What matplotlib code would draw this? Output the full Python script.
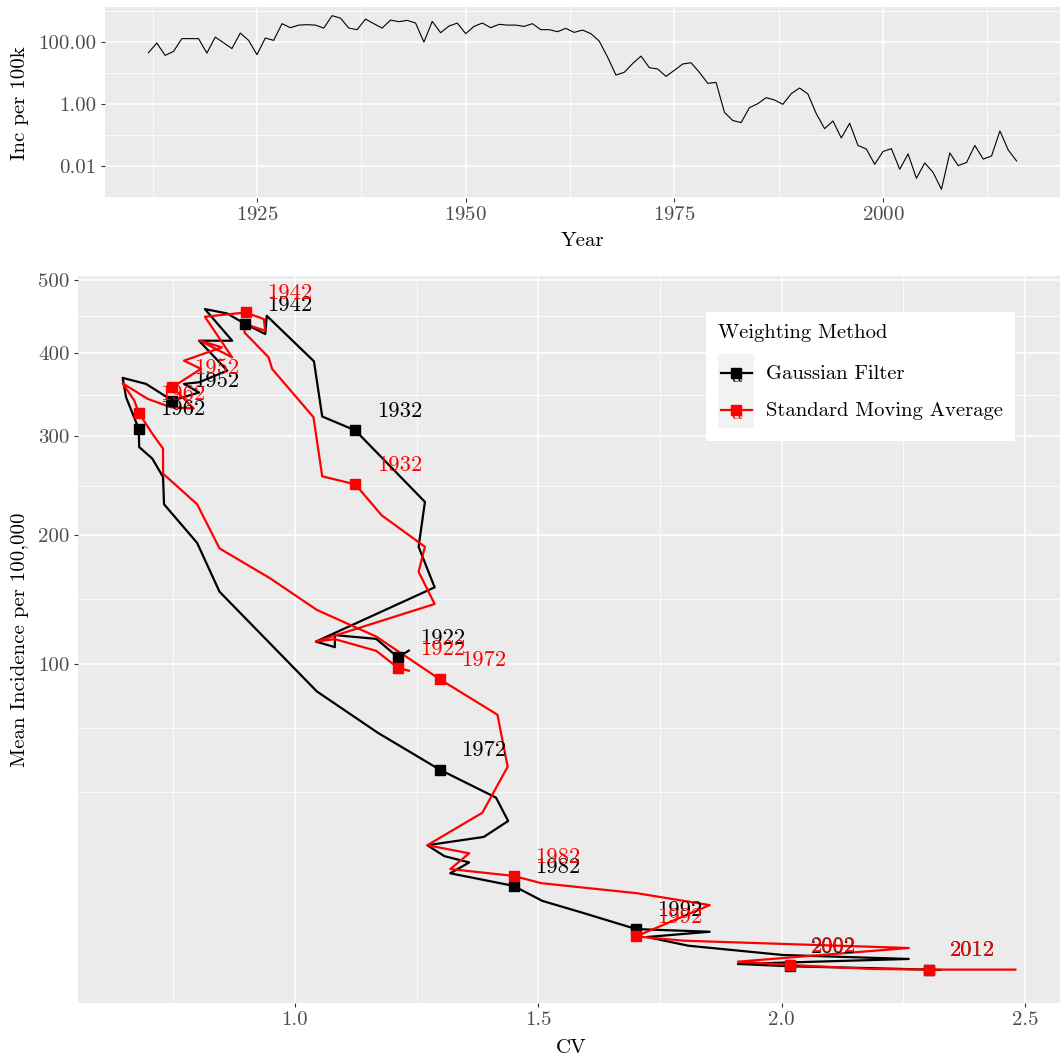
import matplotlib
matplotlib.use("Agg")
import matplotlib.pyplot as plt
import numpy as np
from matplotlib.legend_handler import HandlerBase
from matplotlib.lines import Line2D
from matplotlib.patches import Rectangle
from matplotlib.text import Text
from matplotlib.ticker import FixedLocator, FuncFormatter

plt.rcParams["font.family"] = "cmr10"
plt.rcParams["mathtext.fontset"] = "cm"
plt.rcParams["axes.formatter.use_mathtext"] = True

# yearly incidence per 100k (top panel)
years = list(range(1912, 2017))
incidence = [
    46.5, 95, 38, 51, 132, 132, 132, 45, 148, 97,
    63, 200, 116, 40, 138, 116, 401, 298, 361, 372,
    361, 289, 727, 608, 289, 257, 564, 401, 289, 524,
    465, 513, 420, 102, 476, 205, 336, 420, 191, 328,
    420, 298, 381, 361, 361, 328, 401, 257, 257, 221,
    283, 210, 249, 191, 110, 33.6, 8.8, 10.8, 20.6, 36,
    15.3, 13.8, 8.0, 12.5, 20, 22, 10.8, 4.75, 5.1, 0.55,
    0.30, 0.257, 0.78, 1.05, 1.64, 1.38, 1.0, 2.2, 3.36, 2.15,
    0.50, 0.164, 0.29, 0.082, 0.244, 0.047, 0.036, 0.0116, 0.030, 0.037,
    0.008, 0.025, 0.0041, 0.0128, 0.0063, 0.0018, 0.027, 0.0105, 0.0132, 0.047,
    0.017, 0.0215, 0.138, 0.0336, 0.0148,
]

# phase path: Gaussian filter
gauss_cv = [
    1.234, 1.212, 1.167, 1.082, 1.082, 1.043, 1.287, 1.254, 1.267, 1.124,
    1.056, 1.039, 0.942, 0.939, 0.898, 0.861, 0.815, 0.871, 0.803, 0.861,
    0.803, 0.772, 0.803, 0.748, 0.694, 0.646, 0.653, 0.679, 0.680, 0.707,
    0.729, 0.731, 0.799, 0.845, 1.045, 1.171, 1.297, 1.413, 1.438, 1.388,
    1.272, 1.307, 1.358, 1.319, 1.449, 1.508, 1.593, 1.701, 1.852, 1.723,
    1.808, 2.002, 2.261, 1.910, 2.016, 2.187, 2.302, 2.326,
]
gauss_mean = [
    108.7, 104.1, 116.7, 119.3, 111.0, 114.8, 155.3, 189.5, 231.4, 306.7,
    322.6, 389.6, 449.6, 425.0, 438.4, 452.7, 458.8, 416.2, 416.2, 377.8,
    363.4, 361.4, 350.9, 341.3, 361.4, 368.8, 345.3, 308.6, 288.2, 275.7,
    256.4, 229.1, 193.0, 151.8, 83.0, 60.4, 43.5, 32.4, 24.4, 19.6,
    17.3, 14.5, 13.0, 10.6, 8.13, 5.61, 3.90, 2.13, 1.89, 1.45,
    0.855, 0.392, 0.248, 0.114, 0.069, 0.040, 0.024, 0.021,
]
gauss_label_idx = [1, 9, 14, 23, 27, 36, 44, 47, 54, 56]

# phase path: standard moving average
sma_cv = [
    1.234, 1.212, 1.167, 1.082, 1.043, 1.287, 1.254, 1.267, 1.178, 1.124,
    1.056, 1.038, 0.953, 0.946, 0.896, 0.898, 0.939, 0.936, 0.899, 0.815,
    0.871, 0.805, 0.850, 0.772, 0.807, 0.748, 0.792, 0.745, 0.697, 0.646,
    0.670, 0.679, 0.707, 0.729, 0.729, 0.799, 0.845, 0.949, 1.045, 1.167,
    1.297, 1.416, 1.437, 1.385, 1.272, 1.358, 1.319, 1.449, 1.506, 1.702,
    1.852, 1.701, 1.798, 2.261, 1.910, 2.016, 2.056, 2.187, 2.302, 2.480,
]
sma_mean = [
    95.6, 97.3, 108.5, 116.5, 114.8, 142.2, 168.0, 189.5, 218.5, 248.9,
    257.1, 321.8, 380.0, 394.6, 427.2, 438.4, 429.4, 445.1, 454.1, 448.3,
    394.6, 416.2, 407.5, 390.4, 380.0, 357.3, 331.9, 333.4, 343.4, 362.1,
    341.3, 326.9, 303.0, 286.5, 259.9, 229.1, 188.1, 162.6, 137.7, 118.3,
    90.4, 69.9, 44.7, 27.1, 17.3, 15.2, 11.5, 10.06, 8.63, 6.84,
    4.98, 1.50, 1.18, 0.724, 0.169, 0.093, 0.075, 0.031, 0.024, 0.024,
]
sma_label_idx = [1, 9, 18, 25, 31, 40, 47, 51, 55, 58]

label_years = [1922, 1932, 1942, 1952, 1962, 1972, 1982, 1992, 2002, 2012]


def gg_style(ax):
    ax.set_facecolor("#EBEBEB")
    for sp in ax.spines.values():
        sp.set_visible(False)
    ax.grid(True, which="major", color="white", lw=1.1)
    ax.grid(True, which="minor", color="white", lw=0.55)
    ax.set_axisbelow(True)
    ax.tick_params(which="major", length=3, width=0.8, color="#333333",
                   labelcolor="#4D4D4D", labelsize=15, pad=3)
    ax.tick_params(which="minor", length=0)


def expand(lo, hi, f=0.05):
    d = (hi - lo) * f
    return lo - d, hi + d


fig = plt.figure(figsize=(10.6, 10.6), dpi=100)

# ---- top panel ----
ax1 = fig.add_axes([0.0991, 0.8132, 0.9009, 0.1802])
gg_style(ax1)
ax1.plot(years, incidence, color="black", lw=0.8)
ax1.set_yscale("log")
ax1.set_xlim(*expand(min(years), max(years)))
lmin, lmax = expand(np.log10(min(incidence)), np.log10(max(incidence)))
ax1.set_ylim(10 ** lmin, 10 ** lmax)
ax1.xaxis.set_major_locator(FixedLocator([1925, 1950, 1975, 2000]))
ax1.xaxis.set_minor_locator(FixedLocator([1912.5, 1937.5, 1962.5, 1987.5, 2012.5]))
ax1.yaxis.set_major_locator(FixedLocator([0.01, 1, 100]))
ax1.yaxis.set_minor_locator(FixedLocator([1e-3, 0.1, 10, 1e3]))
ax1.yaxis.set_major_formatter(FuncFormatter(lambda v, p: f"{v:.2f}"))
ax1.yaxis.set_minor_formatter(FuncFormatter(lambda v, p: ""))
fig.text(0.55, 0.7726, "Year", ha="center", va="center", fontsize=15)
fig.text(0.0189, 0.903, "Inc per 100k", ha="center", va="center", rotation=90, fontsize=15)

# ---- bottom panel ----
ax2 = fig.add_axes([0.0736, 0.0538, 0.9264, 0.6858])
gg_style(ax2)


def fwd(v):
    v = np.asarray(v, dtype=float)
    return np.sign(v) * np.sqrt(np.abs(v))


def inv(s):
    s = np.asarray(s, dtype=float)
    return np.sign(s) * s ** 2


ax2.set_yscale("function", functions=(fwd, inv))

series = [
    ("Gaussian Filter", "black", gauss_cv, gauss_mean, gauss_label_idx),
    ("Standard Moving Average", "red", sma_cv, sma_mean, sma_label_idx),
]
handles = []
for name, col, cv, mean, idx in series:
    h, = ax2.plot(cv, mean, color=col, lw=1.6, label=name)
    handles.append(h)
for name, col, cv, mean, idx in series:
    ax2.plot([cv[i] for i in idx], [mean[i] for i in idx], ls="none",
             marker="s", ms=7.5, color=col)
for name, col, cv, mean, idx in series:
    for yr, i in zip(label_years, idx):
        ax2.annotate(str(yr), (cv[i], mean[i]), xytext=(31.7, 13.7),
                     textcoords="offset points", ha="center", va="center",
                     fontsize=16.3, color=col)

all_cv = gauss_cv + sma_cv
all_s = fwd(gauss_mean + sma_mean)
ax2.set_xlim(*expand(min(all_cv), max(all_cv)))
slo, shi = expand(all_s.min(), all_s.max())
ax2.set_ylim(float(inv(slo)), float(inv(shi)))

yt = [100, 200, 300, 400, 500]
ax2.yaxis.set_major_locator(FixedLocator(yt))
ax2.yaxis.set_major_formatter(FuncFormatter(lambda v, p: f"{v:.0f}"))
sb = fwd(yt)
bd = sb[1] - sb[0]
sb_ext = np.concatenate([[sb[0] - bd], sb])
minor_s = np.concatenate([[sb_ext[0]], (sb_ext[:-1] + sb_ext[1:]) / 2])
ax2.yaxis.set_minor_locator(FixedLocator(inv(minor_s)))
ax2.yaxis.set_minor_formatter(FuncFormatter(lambda v, p: ""))
xt = [1.0, 1.5, 2.0, 2.5]
ax2.xaxis.set_major_locator(FixedLocator(xt))
ax2.xaxis.set_minor_locator(FixedLocator([x - 0.25 for x in xt]))
ax2.xaxis.set_major_formatter(FuncFormatter(lambda v, p: f"{v:.1f}"))
fig.text(0.5387, 0.0113, "CV", ha="center", va="center", fontsize=15)
fig.text(0.0189, 0.396, "Mean Incidence per 100,000", ha="center", va="center",
         rotation=90, fontsize=15)


class KeyHandler(HandlerBase):
    def create_artists(self, legend, orig_handle, xdescent, ydescent, width,
                       height, fontsize, trans):
        c = orig_handle.get_color()
        x0, y0 = -xdescent, -ydescent
        bg = Rectangle((x0, y0), width, height, fc="#F2F2F2", ec="none", transform=trans)
        ln = Line2D([x0 + 2, x0 + width - 2], [y0 + height / 2] * 2, color=c,
                    lw=1.6, transform=trans)
        tx = Text(x0 + width / 2, y0 + height / 2 - 3, "a", color=c, ha="center",
                  va="center", fontsize=fontsize, transform=trans)
        mk = Line2D([x0 + width / 2], [y0 + height / 2], marker="s", ms=7.5,
                    color=c, ls="none", transform=trans)
        return [bg, ln, tx, mk]


leg = ax2.legend(handles=handles, title="Weighting Method", loc="upper left",
                 bbox_to_anchor=(0.6395, 0.9505), borderaxespad=0, fontsize=14.8,
                 title_fontsize=14.8, frameon=True, fancybox=False,
                 handler_map={Line2D: KeyHandler()}, handlelength=1.75,
                 handleheight=2.4, labelspacing=0, handletextpad=0.55,
                 borderpad=0.6, alignment="left")
leg.get_frame().set_facecolor("white")
leg.get_frame().set_edgecolor("none")
leg.get_frame().set_alpha(1)
# gap between legend title and keys, as in ggplot
leg._legend_box.sep = 8.6

fig.savefig("out.png", dpi=100)
